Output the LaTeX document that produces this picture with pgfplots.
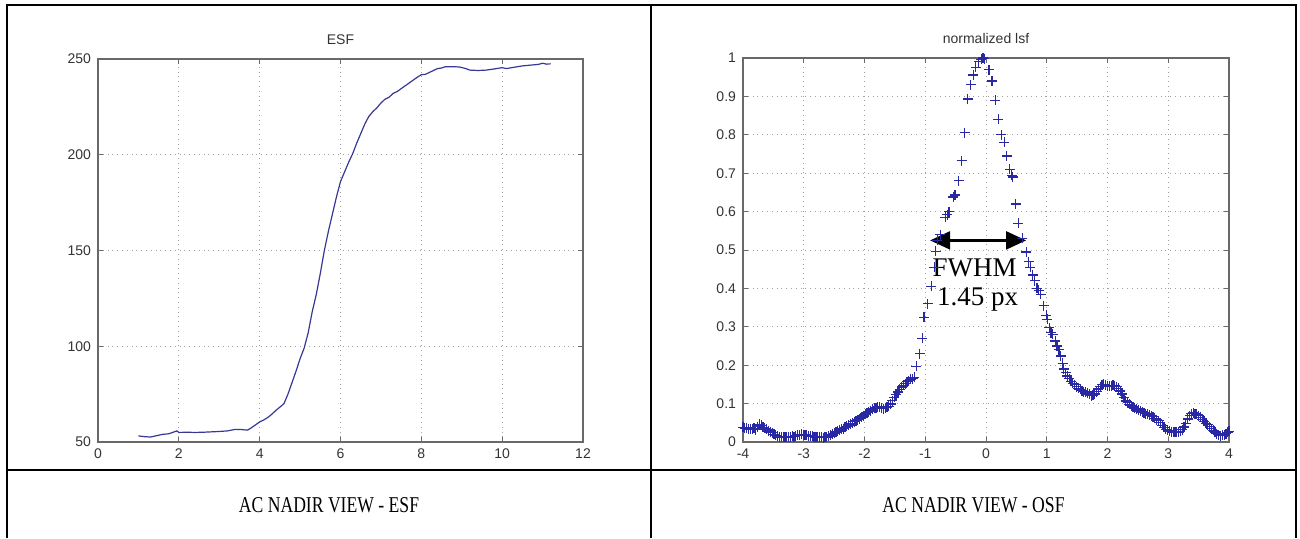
\documentclass[border=0pt]{standalone}
\usepackage{fontspec}
\setmainfont{Liberation Serif}
\newfontfamily\lab{Liberation Sans}
\usepackage{graphicx}
\usepackage{pgfplots}
\pgfplotsset{compat=1.18}
\usetikzlibrary{arrows.meta}
\definecolor{esfblue}{RGB}{55,55,150}
\definecolor{lsfblue}{RGB}{40,40,165}
\definecolor{axgray}{RGB}{105,105,105}

\pgfplotsset{matlab/.style={
  scale only axis,
  axis line style={axgray, line width=0.55pt},
  tick style={axgray, line width=0.45pt},
  major tick length=2.5pt,
  tick align=inside,
  grid=major,
  major grid style={dotted, gray!75, line width=0.5pt},
  tick label style={font=\lab\fontsize{7}{8}\selectfont, text=black!80},
  /pgf/number format/assume math mode=true,
  title style={font=\lab\fontsize{7}{8}\selectfont, text=black!80, yshift=-2.5pt},
}}

\begin{document}
\begin{tikzpicture}
\path[use as bounding box] (0pt,0pt) rectangle (650pt,269pt);
\draw[line width=1.2pt] (3.5pt,0pt) -- (3.5pt,266.5pt) -- (648pt,266.5pt) -- (648pt,0pt);
\draw[line width=1.1pt] (325.5pt,0pt) -- (325.5pt,266.5pt);
\draw[line width=1.3pt] (3.5pt,34pt) -- (648pt,34pt);

\begin{axis}[matlab,
  at={(49pt,48pt)}, anchor=south west,
  width=242.5pt, height=191.5pt,
  xmin=0, xmax=12, ymin=50, ymax=250,
  xtick={0,2,4,6,8,10,12},
  ytick={50,100,150,200,250},
  title={ESF}]
\addplot[esfblue, line width=0.6pt, no marks] coordinates {
(1.00,53.2)(1.15,52.8)(1.30,52.6)(1.45,53.3)(1.60,54.0)(1.75,54.3)(1.90,55.4)(1.95,55.8)
(2.00,55.0)(2.20,55.1)(2.40,55.0)(2.60,55.1)(2.80,55.3)(3.00,55.5)(3.20,55.8)(3.40,56.6)
(3.55,56.5)(3.70,56.2)(3.80,57.5)(3.90,59.0)(4.00,60.5)(4.10,61.5)(4.20,62.8)(4.30,64.5)
(4.40,66.5)(4.50,68.2)(4.60,70.0)(4.70,75.0)(4.80,81.0)(4.90,87.0)(5.00,93.5)(5.10,99.0)
(5.20,107.0)(5.30,118.0)(5.40,127.0)(5.50,138.0)(5.60,150.0)(5.70,160.0)(5.80,169.0)
(5.90,178.0)(6.00,186.0)(6.10,191.0)(6.20,196.0)(6.30,200.5)(6.40,206.0)(6.50,211.0)
(6.60,216.0)(6.70,220.0)(6.80,222.5)(6.90,224.5)(7.00,227.0)(7.10,229.0)(7.20,230.0)
(7.30,232.0)(7.40,233.0)(7.50,234.5)(7.60,236.0)(7.70,237.5)(7.80,239.0)(7.90,240.5)
(8.00,241.8)(8.10,242.0)(8.20,243.0)(8.30,244.0)(8.40,245.0)(8.50,245.3)(8.60,246.0)
(8.80,246.0)(8.95,245.8)(9.10,245.0)(9.20,244.2)(9.40,244.0)(9.60,244.2)(9.80,244.8)
(10.00,245.5)(10.10,245.0)(10.30,245.7)(10.50,246.4)(10.70,246.8)(10.90,247.2)
(11.00,247.8)(11.10,247.3)(11.20,247.5)
};
\end{axis}

\begin{axis}[matlab,
  at={(371.5pt,48pt)}, anchor=south west,
  width=243pt, height=192pt,
  xmin=-4, xmax=4, ymin=0, ymax=1,
  xtick={-4,-3,-2,-1,0,1,2,3,4},
  ytick={0,0.1,0.2,0.3,0.4,0.5,0.6,0.7,0.8,0.9,1},
  title={normalized lsf}]
\addplot[lsfblue, only marks, mark=+, mark size=2.5pt, line width=0.6pt] coordinates {
(-4.00,0.038)(-3.97,0.036)(-3.94,0.037)(-3.91,0.034)(-3.88,0.035)(-3.85,0.033)(-3.82,0.036)
(-3.79,0.032)(-3.76,0.040)(-3.73,0.046)(-3.70,0.043)(-3.67,0.038)(-3.64,0.036)(-3.61,0.033)
(-3.58,0.029)(-3.55,0.026)(-3.52,0.024)(-3.49,0.020)(-3.46,0.017)(-3.43,0.015)(-3.40,0.013)
(-3.37,0.014)(-3.34,0.012)(-3.31,0.013)(-3.28,0.012)(-3.25,0.014)(-3.22,0.013)(-3.19,0.015)
(-3.16,0.014)(-3.13,0.016)(-3.10,0.017)(-3.07,0.018)(-3.04,0.020)(-3.01,0.019)(-2.98,0.018)
(-2.95,0.017)(-2.92,0.016)(-2.89,0.015)(-2.86,0.016)(-2.83,0.014)(-2.80,0.013)(-2.77,0.012)
(-2.74,0.013)(-2.71,0.012)(-2.68,0.011)(-2.65,0.012)(-2.62,0.013)(-2.59,0.015)(-2.56,0.018)
(-2.53,0.020)(-2.50,0.023)(-2.47,0.026)(-2.44,0.028)(-2.41,0.031)(-2.38,0.033)(-2.35,0.035)
(-2.32,0.038)(-2.29,0.041)(-2.26,0.043)(-2.23,0.046)(-2.20,0.049)(-2.17,0.053)(-2.14,0.056)
(-2.11,0.058)(-2.08,0.061)(-2.05,0.065)(-2.02,0.069)(-1.99,0.073)(-1.96,0.076)(-1.93,0.079)
(-1.90,0.082)(-1.87,0.085)(-1.84,0.088)(-1.81,0.089)(-1.78,0.091)(-1.75,0.090)(-1.72,0.088)
(-1.69,0.087)(-1.66,0.089)(-1.63,0.091)(-1.60,0.093)(-1.57,0.099)(-1.54,0.108)(-1.51,0.116)
(-1.48,0.123)(-1.45,0.130)(-1.42,0.137)(-1.39,0.143)(-1.36,0.148)(-1.33,0.152)(-1.30,0.157)
(-1.27,0.160)(-1.24,0.163)(-1.21,0.165)(-1.18,0.168)
(-1.15,0.197)(-1.09,0.230)(-1.05,0.270)(-1.02,0.325)(-0.96,0.360)(-0.90,0.405)(-0.85,0.455)
(-0.83,0.497)(-0.80,0.525)(-0.75,0.540)(-0.67,0.585)(-0.64,0.592)(-0.61,0.600)(-0.54,0.638)
(-0.51,0.643)(-0.45,0.680)(-0.40,0.733)(-0.35,0.806)(-0.30,0.893)(-0.25,0.930)(-0.21,0.956)
(-0.17,0.976)(-0.12,0.990)(-0.08,0.997)(-0.05,1.000)(-0.03,0.998)
(0.05,0.970)(0.10,0.940)(0.15,0.890)(0.20,0.840)(0.25,0.800)(0.30,0.780)(0.34,0.745)
(0.39,0.710)(0.42,0.695)(0.44,0.690)(0.49,0.620)(0.53,0.570)(0.60,0.530)(0.66,0.495)
(0.70,0.470)(0.73,0.455)(0.77,0.435)(0.80,0.420)(0.84,0.400)(0.87,0.395)(0.90,0.385)
(0.95,0.355)(0.99,0.330)(1.01,0.320)(1.04,0.298)(1.07,0.285)(1.10,0.280)(1.14,0.263)
(1.17,0.250)(1.20,0.240)(1.23,0.224)(1.26,0.205)(1.28,0.190)
(1.31,0.180)(1.34,0.172)(1.37,0.165)(1.40,0.158)(1.43,0.153)(1.46,0.149)(1.49,0.144)
(1.52,0.140)(1.55,0.137)(1.58,0.134)(1.61,0.131)(1.64,0.130)(1.67,0.127)(1.70,0.124)
(1.73,0.121)(1.76,0.122)(1.79,0.125)(1.82,0.131)(1.85,0.138)(1.88,0.144)(1.91,0.149)
(1.94,0.150)(1.97,0.148)(2.00,0.147)(2.03,0.145)(2.06,0.146)(2.09,0.148)(2.12,0.147)
(2.15,0.144)(2.18,0.140)(2.21,0.133)(2.24,0.125)(2.27,0.115)(2.30,0.107)(2.33,0.102)
(2.36,0.098)(2.39,0.095)(2.42,0.091)(2.45,0.088)(2.48,0.086)(2.51,0.083)(2.54,0.081)
(2.57,0.078)(2.60,0.076)(2.63,0.074)(2.66,0.072)(2.69,0.070)(2.72,0.068)(2.75,0.066)
(2.78,0.062)(2.81,0.058)(2.84,0.055)(2.87,0.050)(2.90,0.044)(2.93,0.038)(2.96,0.033)
(2.99,0.030)(3.02,0.029)(3.05,0.027)(3.08,0.026)(3.11,0.027)(3.14,0.025)(3.17,0.026)
(3.20,0.028)(3.23,0.032)(3.26,0.039)(3.29,0.048)(3.32,0.060)(3.35,0.069)(3.38,0.074)
(3.41,0.076)(3.44,0.074)(3.47,0.072)(3.50,0.068)(3.53,0.064)(3.56,0.059)(3.59,0.054)
(3.62,0.049)(3.65,0.045)(3.68,0.040)(3.71,0.035)(3.74,0.031)(3.77,0.026)(3.80,0.022)
(3.83,0.018)(3.86,0.016)(3.89,0.017)(3.92,0.019)(3.95,0.022)(3.98,0.025)(4.00,0.028)
};
\draw[black, line width=1.1pt, {Triangle[length=10pt,width=9pt]}-{Triangle[length=10pt,width=9pt]}]
  (axis cs:-0.92,0.525) -- (axis cs:0.66,0.525);
\node[anchor=base west, inner sep=0pt, font=\fontsize{13.5}{14.5}\selectfont] at (axis cs:-0.885,0.432) {FWHM};
\node[anchor=base west, inner sep=0pt, font=\fontsize{13.5}{14.5}\selectfont] at (axis cs:-0.81,0.355) {1.45 px};
\end{axis}

\node[anchor=base] at (164.5pt,13pt) {\scalebox{0.78}[1]{\fontsize{11.3}{13}\selectfont AC NADIR VIEW - ESF}};
\node[anchor=base] at (486.75pt,13pt) {\scalebox{0.78}[1]{\fontsize{11.3}{13}\selectfont AC NADIR VIEW - OSF}};
\end{tikzpicture}
\end{document}
